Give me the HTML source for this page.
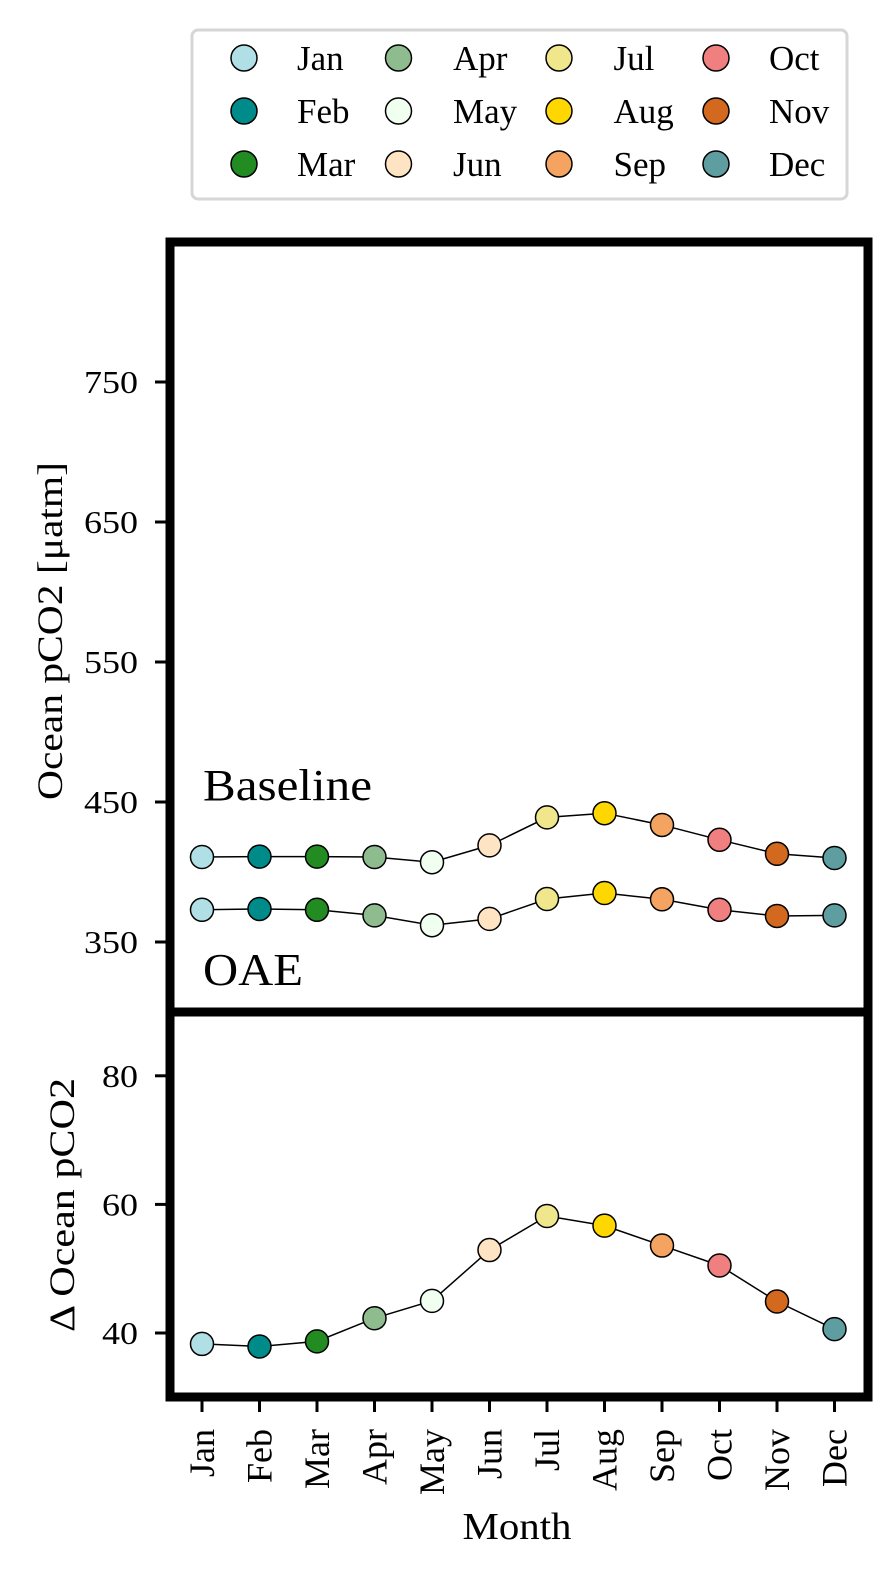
<!DOCTYPE html>
<html><head><meta charset="utf-8"><style>
body{margin:0;background:#fff;}
svg{display:block;font-family:"Liberation Serif",serif;}
</style></head><body>
<svg id="c" width="896" height="1579" viewBox="0 0 896 1579"></svg>
<script>
const months=["Jan","Feb","Mar","Apr","May","Jun","Jul","Aug","Sep","Oct","Nov","Dec"];
const colors=["#b0e0e6","#008b8b","#228b22","#8fbc8f","#f0fff0","#ffe4c4","#f0e68c","#ffd700","#f4a460","#f08080","#d2691e","#5f9ea0"];
const baseline=[410.7,411,411,410.7,407,419,439,442,433.6,423,413,410];
const oae=[373,373.6,373,369,362,366.5,380.7,385,380.5,373,368.6,369];
const delta=[38.3,37.9,38.7,42.3,45,52.9,58.2,56.7,53.6,50.5,44.9,40.6];
const topTicks=[350,450,550,650,750];
const botTicks=[40,60,80];
const NS="http://www.w3.org/2000/svg";
const svg=document.getElementById('c');
function el(t,a,p){const e=document.createElementNS(NS,t);for(const k in a)e.setAttribute(k,a[k]);(p||svg).appendChild(e);return e;}
const L=170,R=868,T1=242,B1=1012,T2=1012,B2=1397;
const xs=i=>202+i*(834.5-202)/11;
const yTop=v=>942-(v-350)*1.4;
const yBot=v=>1333-(v-40)*6.43;
topTicks.forEach(v=>{const y=yTop(v);
 const t=el('line',{x1:L-15,x2:L,y1:y,y2:y,stroke:'#000','stroke-width':3});
 
 const tx=el('text',{x:138,y:y+11,'font-size':32,'text-anchor':'end',textLength:54,lengthAdjust:'spacingAndGlyphs'});tx.textContent=v;
 });
botTicks.forEach(v=>{const y=yBot(v);
 const t=el('line',{x1:L-15,x2:L,y1:y,y2:y,stroke:'#000','stroke-width':3});
 
 const tx=el('text',{x:138,y:y+11,'font-size':32,'text-anchor':'end',textLength:36,lengthAdjust:'spacingAndGlyphs'});tx.textContent=v;
 });
months.forEach((m,i)=>{const x=xs(i);
 const t=el('line',{x1:x,x2:x,y1:B2,y2:B2+15,stroke:'#000','stroke-width':3});
 
 const tx=el('text',{x:0,y:0,'font-size':36,'text-anchor':'end',transform:`translate(${x+12},${B2+32}) rotate(-90)`});tx.textContent=m;
 });
function series(vals,yf,name){
 const pl=el('polyline',{points:vals.map((v,i)=>xs(i)+','+yf(v)).join(' '),fill:'none',stroke:'#000','stroke-width':1.5});
 
 vals.forEach((v,i)=>{const c=el('circle',{cx:xs(i),cy:yf(v),r:11.5,fill:colors[i],stroke:'#000','stroke-width':1.5});
  });
}
series(baseline,yTop,'baseline');series(oae,yTop,'oae');series(delta,yBot,'delta');
const f1=el('rect',{x:L,y:T1,width:R-L,height:B1-T1,fill:'none',stroke:'#000','stroke-width':9});

const f2=el('rect',{x:L,y:T2,width:R-L,height:B2-T2,fill:'none',stroke:'#000','stroke-width':9});

let t;
t=el('text',{x:203,y:800,'font-size':44,textLength:169,lengthAdjust:'spacingAndGlyphs'});t.textContent='Baseline';
t=el('text',{x:203,y:985,'font-size':46,textLength:100,lengthAdjust:'spacingAndGlyphs'});t.textContent='OAE';
t=el('text',{x:0,y:0,'font-size':36,'text-anchor':'middle',textLength:338,lengthAdjust:'spacingAndGlyphs',transform:'translate(62,631) rotate(-90)'});t.textContent='Ocean pCO2 [\u03bcatm]';
t=el('text',{x:0,y:0,'font-size':36,'text-anchor':'middle',textLength:254,lengthAdjust:'spacingAndGlyphs',transform:'translate(74,1205) rotate(-90)'});t.textContent='\u0394 Ocean pCO2';
t=el('text',{x:517,y:1539,'font-size':38,'text-anchor':'middle',textLength:109,lengthAdjust:'spacingAndGlyphs'});t.textContent='Month';
const lg=el('rect',{x:192,y:30,width:655,height:169,rx:6,fill:'#fff',stroke:'#d6d6d6','stroke-width':3});

const colX=[244,398.5,559,716],labX=[297,453,613.5,769],rowY=[58,111,164];
months.forEach((m,i)=>{const c0=Math.floor(i/3),cy=rowY[i%3];
 const c=el('circle',{cx:colX[c0],cy:cy,r:13,fill:colors[i],stroke:'#000','stroke-width':1.5});
 
 const tx=el('text',{x:labX[c0],y:cy+12,'font-size':35});tx.textContent=m;
 });
</script>
</body></html>
